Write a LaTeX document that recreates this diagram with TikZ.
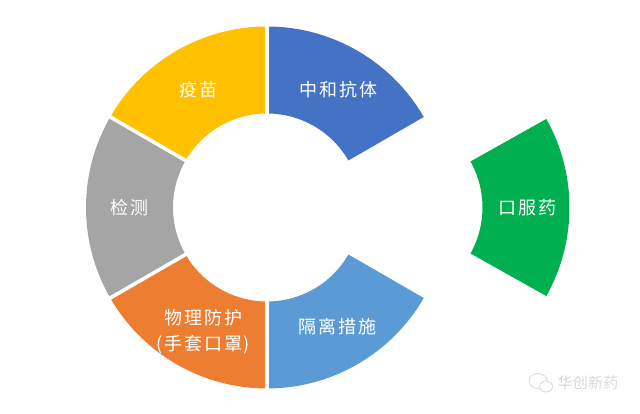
\documentclass[tikz,border=0pt]{standalone}
\usepackage{fontspec}
\setmainfont{Noto Sans CJK SC}[LetterSpace=10]
\newfontfamily\markfont{Noto Sans CJK SC}[LetterSpace=2]
\definecolor{secblue}{HTML}{4472C4}
\definecolor{secyellow}{HTML}{FFC000}
\definecolor{secgray}{HTML}{A5A5A5}
\definecolor{secorange}{HTML}{ED7D31}
\definecolor{seclight}{HTML}{5B9BD5}
\definecolor{secgreen}{HTML}{00B050}
\definecolor{markgray}{HTML}{D8D8D8}
\tikzset{
  seclabel/.style={text=white,font=\fontsize{18pt}{20pt}\selectfont,inner sep=0pt,align=center},
  marklabel/.style={text=markgray,font=\markfont\fontsize{15pt}{18pt}\selectfont,inner sep=0pt}
}
\begin{document}
\begin{tikzpicture}[cap=round]
        \useasboundingbox (0pt,0pt) rectangle (640pt,414pt);

        % ring and the sector set apart from it
        \foreach \cx/\astart/\astop/\col in {
          267/30/90/secblue,
          267/90/150/secyellow,
          267/150/210/secgray,
          267/210/270/secorange,
          267/270/330/seclight,
          388.5/-29.3/29.3/secgreen}
        {
          \begin{scope}[shift={(\cx pt,206.5pt)}]
            \fill[\col] (\astart:181pt) arc (\astart:\astop:181pt) -- (\astop:94pt) arc (\astop:\astart:94pt) -- cycle;
          \end{scope}
        }

        % white gaps between the sectors
        \begin{scope}[shift={(267pt,206.5pt)}]
          \foreach \x in {90,150,210,270} {
            \draw[white,line width=3.6pt,line cap=butt] (\x:90pt) -- (\x:185pt);
          }
        \end{scope}

        \node[seclabel] (antibody) at (338.5pt,324pt) {中和抗体};
        \node[seclabel] (vaccine) at (198.5pt,324pt) {疫苗};
        \node[seclabel] (test) at (129.5pt,206pt) {检测};
        \node[seclabel] (protect) at (203.5pt,82.5pt) {物理防护\\[6pt](手套口罩)};
        \node[seclabel] (isolate) at (337.5pt,87pt) {隔离措施};
        \node[seclabel] (oral) at (527.5pt,206pt) {口服药};

        % watermark
        \draw[markgray,line width=0.8pt] (538pt,33pt) ellipse (9pt and 7.5pt);
        \draw[markgray,line width=0.8pt,fill=white] (546pt,27.5pt) ellipse (6.5pt and 5.5pt);
        \node[marklabel] (mark) at (588pt,31pt) {华创新药};
\end{tikzpicture}
\end{document}
